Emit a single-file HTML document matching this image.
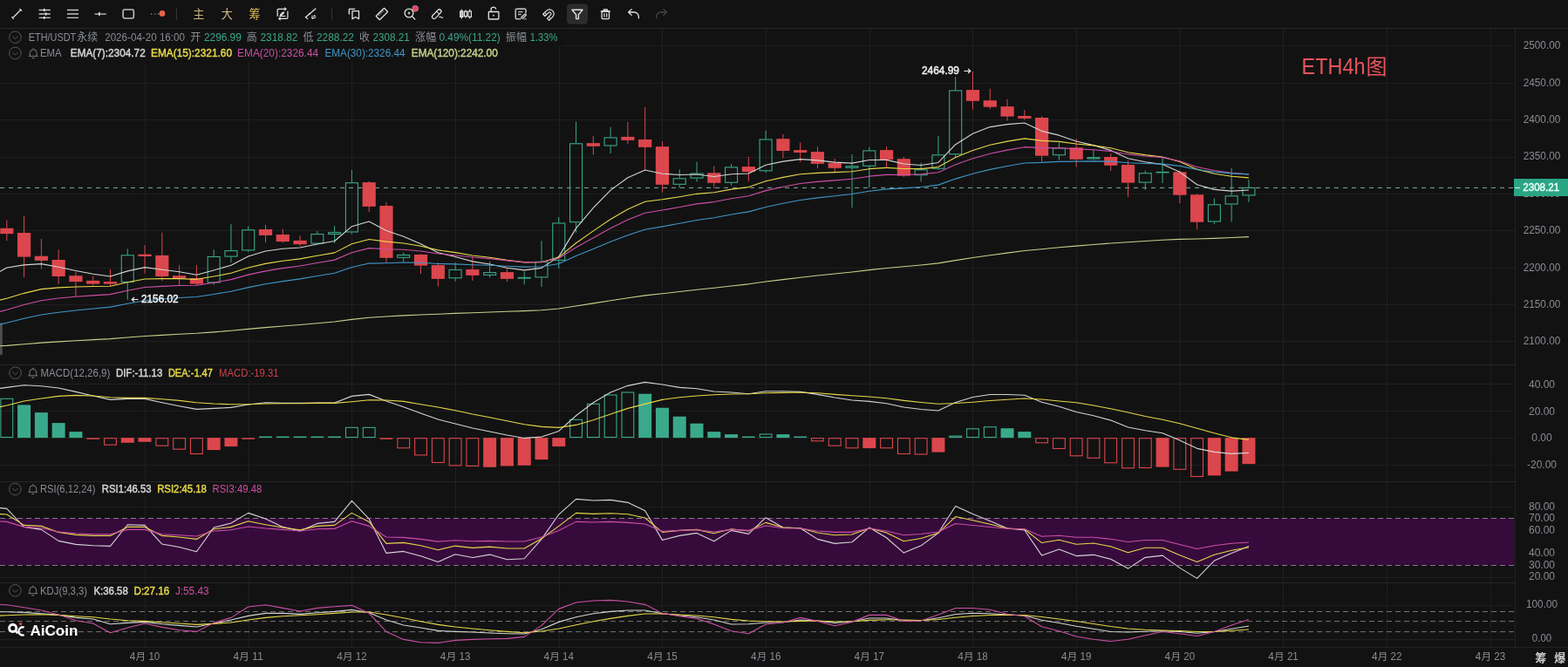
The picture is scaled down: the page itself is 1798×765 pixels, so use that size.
<!DOCTYPE html>
<html lang="zh"><head><meta charset="utf-8"><title>ETH/USDT 4h - AiCoin</title>
<style>html,body{margin:0;padding:0;background:#121212;overflow:hidden}svg{display:block;will-change:transform}text{font-family:"Liberation Sans","Noto Sans CJK SC",sans-serif;white-space:pre}</style></head>
<body>
<svg width="1798" height="765" viewBox="0 0 1798 765" role="img" aria-label="ETH/USDT 4h candlestick chart with EMA, MACD, RSI and KDJ indicators">

<rect width="1798" height="765" fill="#121212"/>
<g fill="none" shape-rendering="crispEdges" stroke-width="1">
<path d="M166.5 33V742.4" stroke="#1f1f1f"/>
<path d="M285.5 33V742.4" stroke="#1f1f1f"/>
<path d="M403.5 33V742.4" stroke="#1f1f1f"/>
<path d="M522.5 33V742.4" stroke="#1f1f1f"/>
<path d="M641.5 33V742.4" stroke="#1f1f1f"/>
<path d="M759.5 33V742.4" stroke="#1f1f1f"/>
<path d="M878.5 33V742.4" stroke="#1f1f1f"/>
<path d="M997.5 33V742.4" stroke="#1f1f1f"/>
<path d="M1115.5 33V742.4" stroke="#1f1f1f"/>
<path d="M1234.5 33V742.4" stroke="#1f1f1f"/>
<path d="M1353.5 33V742.4" stroke="#1f1f1f"/>
<path d="M1471.5 33V742.4" stroke="#1f1f1f"/>
<path d="M1590.5 33V742.4" stroke="#1f1f1f"/>
<path d="M1709.5 33V742.4" stroke="#1f1f1f"/>
<path d="M0 391.5H1737.5" stroke="#1f1f1f"/>
<path d="M0 349.5H1737.5" stroke="#1f1f1f"/>
<path d="M0 307.5H1737.5" stroke="#1f1f1f"/>
<path d="M0 264.5H1737.5" stroke="#1f1f1f"/>
<path d="M0 222.5H1737.5" stroke="#1f1f1f"/>
<path d="M0 180.5H1737.5" stroke="#1f1f1f"/>
<path d="M0 137.5H1737.5" stroke="#1f1f1f"/>
<path d="M0 95.5H1737.5" stroke="#1f1f1f"/>
<path d="M0 52.5H1737.5" stroke="#1f1f1f"/>
<path d="M0 440.5H1737.5" stroke="#1f1f1f"/>
<path d="M0 471.5H1737.5" stroke="#1f1f1f"/>
<path d="M0 502.5H1737.5" stroke="#1f1f1f"/>
<path d="M0 533.5H1737.5" stroke="#1f1f1f"/>
<path d="M0 581.5H1737.5" stroke="#1f1f1f"/>
<path d="M0 608.5H1737.5" stroke="#1f1f1f"/>
<path d="M0 635.5H1737.5" stroke="#1f1f1f"/>
<path d="M0 662.5H1737.5" stroke="#1f1f1f"/>
<path d="M0 694.5H1737.5" stroke="#1f1f1f"/>
<path d="M0 733.5H1737.5" stroke="#1f1f1f"/>
<path d="M0 32.5H1798" stroke="#272727"/>
<path d="M0 418.5H1737.5" stroke="#272727"/>
<path d="M0 552.5H1737.5" stroke="#272727"/>
<path d="M0 668.5H1737.5" stroke="#272727"/>
<path d="M0 742.5H1798" stroke="#222222"/>
<path d="M1737.5 33V742.4" stroke="#212121"/>
</g>
<path d="M0 33h645v20h-67v19.5h-578zM0 419h326v17h-326zM0 553h306v17h-306zM0 669h246v17h-246z" fill="#121212"/>
<rect x="0" y="594.4" width="1736.3" height="54" fill="#3e0a45" opacity=".82"/>
<path d="M0 594.5H1736M0 648.5H1736" stroke="#85768a" stroke-dasharray="6 4" fill="none"/>
<path d="M0 701.5H1736M0 712.6H1736M0 724.6H1736" stroke="#757575" stroke-dasharray="6 4" fill="none"/>
<path d="M0 215.4H1737.5" stroke="#9fd0c2" stroke-dasharray="5 5" fill="none" opacity=".8"/>
<rect x="0" y="370.5" width="2.8" height="36.5" fill="#4d4d4d"/>
<g id="candles" stroke-width="1">
<path d="M7.8 252.6V276.2" stroke="#dc464d"/><rect x="0.2" y="261.8" width="15.2" height="6.3" fill="#dc464d"/>
<path d="M27.58 247.4V317.9" stroke="#dc464d"/><rect x="19.98" y="267" width="15.2" height="27.6" fill="#dc464d"/>
<path d="M47.36 273.9V308.7" stroke="#dc464d"/><rect x="39.76" y="293.7" width="15.2" height="5.2" fill="#dc464d"/>
<path d="M67.14 286.3V325.6" stroke="#dc464d"/><rect x="59.54" y="298" width="15.2" height="19" fill="#dc464d"/>
<path d="M86.92 312.1V340" stroke="#dc464d"/><rect x="79.32" y="316.2" width="15.2" height="6.9" fill="#dc464d"/>
<path d="M106.7 316.4V327.4" stroke="#dc464d"/><rect x="99.1" y="321.9" width="15.2" height="3.7" fill="#dc464d"/>
<path d="M126.48 308.7V327.9" stroke="#dc464d"/><rect x="118.88" y="323.1" width="15.2" height="2.5" fill="#dc464d"/>
<path d="M146.26 285.4V292.3M146.26 323.9V343.9" stroke="#3aa98b"/><rect x="139.26" y="292.8" width="14" height="30.6" fill="none" stroke="#3aa98b" stroke-width="1.1"/>
<path d="M166.04 281.1V313.6" stroke="#dc464d"/><rect x="158.44" y="291.7" width="15.2" height="2.3" fill="#dc464d"/>
<path d="M185.82 266.7V322.2" stroke="#dc464d"/><rect x="178.22" y="292.9" width="15.2" height="24.1" fill="#dc464d"/>
<path d="M205.6 304.1V327.4" stroke="#dc464d"/><rect x="198" y="316.2" width="15.2" height="3.1" fill="#dc464d"/>
<path d="M225.38 304.1V327.4" stroke="#dc464d"/><rect x="217.78" y="319" width="15.2" height="6.6" fill="#dc464d"/>
<path d="M245.16 286.3V294M245.16 324.5V326.8" stroke="#3aa98b"/><rect x="238.16" y="294.5" width="14" height="29.5" fill="none" stroke="#3aa98b" stroke-width="1.1"/>
<path d="M264.94 257.2V287.1M264.94 294.6V301.2" stroke="#3aa98b"/><rect x="257.94" y="287.6" width="14" height="6.5" fill="none" stroke="#3aa98b" stroke-width="1.1"/>
<path d="M284.72 259.5V263.3M284.72 287.4V289.1" stroke="#3aa98b"/><rect x="277.72" y="263.8" width="14" height="23.1" fill="none" stroke="#3aa98b" stroke-width="1.1"/>
<path d="M304.5 257.8V278.2" stroke="#dc464d"/><rect x="296.9" y="263" width="15.2" height="6.9" fill="#dc464d"/>
<path d="M324.28 262.4V278.2" stroke="#dc464d"/><rect x="316.68" y="269" width="15.2" height="8.1" fill="#dc464d"/>
<path d="M344.06 270.2V282.5" stroke="#dc464d"/><rect x="336.46" y="275.9" width="15.2" height="4.3" fill="#dc464d"/>
<path d="M363.84 265V268.1M363.84 279.6V280.5" stroke="#3aa98b"/><rect x="356.84" y="268.6" width="14" height="10.5" fill="none" stroke="#3aa98b" stroke-width="1.1"/>
<path d="M383.62 259.2V266.1M383.62 269V279" stroke="#3aa98b"/><rect x="376.62" y="266.6" width="14" height="1.9" fill="none" stroke="#3aa98b" stroke-width="1.1"/>
<path d="M403.4 194.9V209.2M403.4 266.5V268.6" stroke="#3aa98b"/><rect x="396.4" y="209.7" width="14" height="56.3" fill="none" stroke="#3aa98b" stroke-width="1.1"/>
<path d="M423.18 208V243" stroke="#dc464d"/><rect x="415.58" y="209.1" width="15.2" height="27.8" fill="#dc464d"/>
<path d="M442.96 232V301.2" stroke="#dc464d"/><rect x="435.36" y="236" width="15.2" height="59.8" fill="#dc464d"/>
<path d="M462.74 289.4V292M462.74 295.8V299.8" stroke="#3aa98b"/><rect x="455.74" y="292.5" width="14" height="2.8" fill="none" stroke="#3aa98b" stroke-width="1.1"/>
<path d="M482.52 291.1V314.1" stroke="#dc464d"/><rect x="474.92" y="292" width="15.2" height="12.6" fill="#dc464d"/>
<path d="M502.3 301.2V328.5" stroke="#dc464d"/><rect x="494.7" y="304.1" width="15.2" height="15.8" fill="#dc464d"/>
<path d="M522.08 301.2V309M522.08 319.3V322.8" stroke="#3aa98b"/><rect x="515.08" y="309.5" width="14" height="9.3" fill="none" stroke="#3aa98b" stroke-width="1.1"/>
<path d="M541.86 294V321.9" stroke="#dc464d"/><rect x="534.26" y="309" width="15.2" height="6.9" fill="#dc464d"/>
<path d="M561.64 299.8V312.1M561.64 315.9V318.4" stroke="#3aa98b"/><rect x="554.64" y="312.6" width="14" height="2.8" fill="none" stroke="#3aa98b" stroke-width="1.1"/>
<path d="M581.42 307V323.3" stroke="#dc464d"/><rect x="573.82" y="312.1" width="15.2" height="7.8" fill="#dc464d"/>
<path d="M601.2 311.3V317.9M601.2 319.6V326.2" stroke="#3aa98b"/><rect x="594.2" y="318.4" width="14" height="0.7" fill="none" stroke="#3aa98b" stroke-width="1.1"/>
<path d="M620.98 276.2V299.8M620.98 318.4V329.1" stroke="#3aa98b"/><rect x="613.98" y="300.3" width="14" height="17.6" fill="none" stroke="#3aa98b" stroke-width="1.1"/>
<path d="M640.76 248.9V255.5M640.76 298.9V307.8" stroke="#3aa98b"/><rect x="633.76" y="256" width="14" height="42.4" fill="none" stroke="#3aa98b" stroke-width="1.1"/>
<path d="M660.54 139.6V164.3M660.54 255.2V266.7" stroke="#3aa98b"/><rect x="653.54" y="164.8" width="14" height="89.9" fill="none" stroke="#3aa98b" stroke-width="1.1"/>
<path d="M680.32 156V177.6" stroke="#dc464d"/><rect x="672.72" y="164.1" width="15.2" height="3.7" fill="#dc464d"/>
<path d="M700.1 145.7V157.4M700.1 167.5V176.1" stroke="#3aa98b"/><rect x="693.1" y="157.9" width="14" height="9.1" fill="none" stroke="#3aa98b" stroke-width="1.1"/>
<path d="M719.88 139.9V165.2" stroke="#dc464d"/><rect x="712.28" y="156.9" width="15.2" height="4" fill="#dc464d"/>
<path d="M739.66 122.9V194.8" stroke="#dc464d"/><rect x="732.06" y="160" width="15.2" height="8.9" fill="#dc464d"/>
<path d="M759.44 162V220.7" stroke="#dc464d"/><rect x="751.84" y="168.1" width="15.2" height="43.7" fill="#dc464d"/>
<path d="M779.22 194.2V204.3M779.22 211.8V215.5" stroke="#3aa98b"/><rect x="772.22" y="204.8" width="14" height="6.5" fill="none" stroke="#3aa98b" stroke-width="1.1"/>
<path d="M799 185.6V198.6M799 204.6V208.3" stroke="#3aa98b"/><rect x="792" y="199.1" width="14" height="5" fill="none" stroke="#3aa98b" stroke-width="1.1"/>
<path d="M818.78 190.5V215.8" stroke="#dc464d"/><rect x="811.18" y="198.3" width="15.2" height="11.5" fill="#dc464d"/>
<path d="M838.56 188.2V191.4M838.56 209.8V212.6" stroke="#3aa98b"/><rect x="831.56" y="191.9" width="14" height="17.4" fill="none" stroke="#3aa98b" stroke-width="1.1"/>
<path d="M858.34 179.9V208.3" stroke="#dc464d"/><rect x="850.74" y="191.1" width="15.2" height="6" fill="#dc464d"/>
<path d="M878.12 149.7V159.5M878.12 196.3V198" stroke="#3aa98b"/><rect x="871.12" y="160" width="14" height="35.8" fill="none" stroke="#3aa98b" stroke-width="1.1"/>
<path d="M897.9 154V181.6" stroke="#dc464d"/><rect x="890.3" y="159.2" width="15.2" height="13.8" fill="#dc464d"/>
<path d="M917.68 163.5V185.9" stroke="#dc464d"/><rect x="910.08" y="172.1" width="15.2" height="2.9" fill="#dc464d"/>
<path d="M937.46 168.4V193.1" stroke="#dc464d"/><rect x="929.86" y="174.1" width="15.2" height="13.8" fill="#dc464d"/>
<path d="M957.24 181.9V197.4" stroke="#dc464d"/><rect x="949.64" y="186.8" width="15.2" height="6" fill="#dc464d"/>
<path d="M977.02 177V190.2M977.02 192.8V238.3" stroke="#3aa98b"/><rect x="970.02" y="190.7" width="14" height="1.6" fill="none" stroke="#3aa98b" stroke-width="1.1"/>
<path d="M996.8 168.7V172.4M996.8 190.8V215.3" stroke="#3aa98b"/><rect x="989.8" y="172.9" width="14" height="17.4" fill="none" stroke="#3aa98b" stroke-width="1.1"/>
<path d="M1016.58 168.1V191.4" stroke="#dc464d"/><rect x="1008.98" y="172.1" width="15.2" height="11" fill="#dc464d"/>
<path d="M1036.36 179.9V202.9" stroke="#dc464d"/><rect x="1028.76" y="182.2" width="15.2" height="19.5" fill="#dc464d"/>
<path d="M1056.14 186.5V194.3M1056.14 201.2V208.4" stroke="#3aa98b"/><rect x="1049.14" y="194.8" width="14" height="5.9" fill="none" stroke="#3aa98b" stroke-width="1.1"/>
<path d="M1075.92 156V177.3M1075.92 193.7V195.1" stroke="#3aa98b"/><rect x="1068.92" y="177.8" width="14" height="15.4" fill="none" stroke="#3aa98b" stroke-width="1.1"/>
<path d="M1095.7 88.2V103.4M1095.7 177.3V180.8" stroke="#3aa98b"/><rect x="1088.7" y="103.9" width="14" height="72.9" fill="none" stroke="#3aa98b" stroke-width="1.1"/>
<path d="M1115.48 82.1V125.6" stroke="#dc464d"/><rect x="1107.88" y="103.1" width="15.2" height="12.7" fill="#dc464d"/>
<path d="M1135.26 101.7V125.3" stroke="#dc464d"/><rect x="1127.66" y="115.2" width="15.2" height="7.5" fill="#dc464d"/>
<path d="M1155.04 113.8V138.5" stroke="#dc464d"/><rect x="1147.44" y="122.1" width="15.2" height="11.5" fill="#dc464d"/>
<path d="M1174.82 126.1V137.6" stroke="#dc464d"/><rect x="1167.22" y="133" width="15.2" height="2.9" fill="#dc464d"/>
<path d="M1194.6 133.3V185.6" stroke="#dc464d"/><rect x="1187" y="135" width="15.2" height="43.7" fill="#dc464d"/>
<path d="M1214.38 163.5V169.5M1214.38 178.2V183.6" stroke="#3aa98b"/><rect x="1207.38" y="170" width="14" height="7.7" fill="none" stroke="#3aa98b" stroke-width="1.1"/>
<path d="M1234.16 159.2V191.4" stroke="#dc464d"/><rect x="1226.56" y="169.3" width="15.2" height="13.5" fill="#dc464d"/>
<path d="M1253.94 172.1V180.2M1253.94 182.5V183.6" stroke="#3aa98b"/><rect x="1246.94" y="180.7" width="14" height="1.3" fill="none" stroke="#3aa98b" stroke-width="1.1"/>
<path d="M1273.72 176.3V195.9" stroke="#dc464d"/><rect x="1266.12" y="180" width="15.2" height="9.8" fill="#dc464d"/>
<path d="M1293.5 184.1V225.7" stroke="#dc464d"/><rect x="1285.9" y="189" width="15.2" height="20.6" fill="#dc464d"/>
<path d="M1313.28 195.5V198.2M1313.28 209.6V217.8" stroke="#3aa98b"/><rect x="1306.28" y="198.7" width="14" height="10.4" fill="none" stroke="#3aa98b" stroke-width="1.1"/>
<path d="M1333.06 180.6V196.9M1333.06 198.4V210" stroke="#3aa98b"/><rect x="1326.06" y="197.4" width="14" height="0.5" fill="none" stroke="#3aa98b" stroke-width="1.1"/>
<path d="M1352.84 195.5V233.1" stroke="#dc464d"/><rect x="1345.24" y="197.3" width="15.2" height="26.4" fill="#dc464d"/>
<path d="M1372.62 222.4V263.1" stroke="#dc464d"/><rect x="1365.02" y="223.3" width="15.2" height="31.4" fill="#dc464d"/>
<path d="M1392.4 227.6V234.3M1392.4 254.5V257.1" stroke="#3aa98b"/><rect x="1385.4" y="234.8" width="14" height="19.2" fill="none" stroke="#3aa98b" stroke-width="1.1"/>
<path d="M1412.18 192.9V224.3M1412.18 234.5V254.3" stroke="#3aa98b"/><rect x="1405.18" y="224.8" width="14" height="9.2" fill="none" stroke="#3aa98b" stroke-width="1.1"/>
<path d="M1431.96 206V214.9M1431.96 224.45V231.9" stroke="#3aa98b"/><rect x="1424.96" y="215.4" width="14" height="8.55" fill="none" stroke="#3aa98b" stroke-width="1.1"/>
</g>
<path d="M-11.98 318L7.8 307L27.58 303.9L47.36 302.65L67.14 306.24L86.92 310.45L106.7 314.24L126.48 317.08L146.26 310.88L166.04 306.66L185.82 309.25L205.6 311.76L225.38 315.22L245.16 309.92L264.94 304.21L284.72 293.98L304.5 287.96L324.28 285.25L344.06 283.99L363.84 280.01L383.62 276.54L403.4 259.7L423.18 254L442.96 264.45L462.74 271.34L482.52 279.65L502.3 289.72L522.08 294.54L541.86 299.88L561.64 302.93L581.42 307.17L601.2 309.86L620.98 307.34L640.76 294.38L660.54 261.86L680.32 238.35L700.1 218.11L719.88 203.81L739.66 195.08L759.44 199.26L779.22 200.52L799 200.04L818.78 202.48L838.56 199.71L858.34 199.06L878.12 189.17L897.9 185.13L917.68 182.59L937.46 183.92L957.24 186.14L977.02 187.16L996.8 183.47L1016.58 183.37L1036.36 187.96L1056.14 189.54L1075.92 186.48L1095.7 165.71L1115.48 153.23L1135.26 145.6L1155.04 142.6L1174.82 140.93L1194.6 150.37L1214.38 155.15L1234.16 162.06L1253.94 166.6L1273.72 172.4L1293.5 181.7L1313.28 185.82L1333.06 188.59L1352.84 197.37L1372.62 211.7L1392.4 217.35L1412.18 219.09L1431.96 218.04" stroke="#d4d4d4" stroke-width="1.1" fill="none" stroke-linejoin="round"/>
<path d="M-11.98 347L7.8 342.3L27.58 336.34L47.36 331.66L67.14 329.83L86.92 328.98L106.7 328.56L126.48 328.19L146.26 323.71L166.04 319.99L185.82 319.62L205.6 319.58L225.38 320.33L245.16 317.04L264.94 313.3L284.72 307.05L304.5 302.4L324.28 299.24L344.06 296.86L363.84 293.27L383.62 289.87L403.4 279.79L423.18 274.43L442.96 277.1L462.74 278.96L482.52 282.17L502.3 286.88L522.08 289.65L541.86 292.93L561.64 295.32L581.42 298.4L601.2 300.83L620.98 300.71L640.76 295.05L660.54 278.71L680.32 264.85L700.1 251.42L719.88 240.1L739.66 231.2L759.44 228.78L779.22 225.72L799 222.33L818.78 220.76L838.56 217.09L858.34 214.59L878.12 207.71L897.9 203.37L917.68 199.82L937.46 198.33L957.24 197.64L977.02 196.71L996.8 193.67L1016.58 192.35L1036.36 193.52L1056.14 193.62L1075.92 191.58L1095.7 180.55L1115.48 172.46L1135.26 166.24L1155.04 162.16L1174.82 158.88L1194.6 161.36L1214.38 162.37L1234.16 164.93L1253.94 166.84L1273.72 169.71L1293.5 174.69L1313.28 177.63L1333.06 180.04L1352.84 185.5L1372.62 194.15L1392.4 199.17L1412.18 202.31L1431.96 203.88" stroke="#e6d74a" stroke-width="1.1" fill="none" stroke-linejoin="round"/>
<path d="M-11.98 360.5L7.8 355.3L27.58 349.52L47.36 344.7L67.14 342.06L86.92 340.25L106.7 338.86L126.48 337.6L146.26 333.28L166.04 329.54L185.82 328.35L205.6 327.49L225.38 327.31L245.16 324.13L264.94 320.61L284.72 315.15L304.5 310.84L324.28 307.63L344.06 305.01L363.84 301.5L383.62 298.13L403.4 289.66L423.18 284.63L442.96 285.7L462.74 286.3L482.52 288.04L502.3 291.07L522.08 292.78L541.86 294.98L561.64 296.61L581.42 298.83L601.2 300.65L620.98 300.57L640.76 296.27L660.54 283.71L680.32 272.67L700.1 261.69L719.88 252.09L739.66 244.17L759.44 241.08L779.22 237.58L799 233.87L818.78 231.58L838.56 227.75L858.34 224.83L878.12 218.61L897.9 214.27L917.68 210.53L937.46 208.37L957.24 206.89L977.02 205.3L996.8 202.17L1016.58 200.35L1036.36 200.48L1056.14 199.89L1075.92 197.74L1095.7 188.75L1115.48 181.81L1135.26 176.18L1155.04 172.12L1174.82 168.67L1194.6 169.63L1214.38 169.62L1234.16 170.87L1253.94 171.76L1273.72 173.48L1293.5 176.92L1313.28 178.94L1333.06 180.65L1352.84 184.75L1372.62 191.42L1392.4 195.5L1412.18 198.24L1431.96 199.83" stroke="#cc4fa6" stroke-width="1.1" fill="none" stroke-linejoin="round"/>
<path d="M-11.98 375L7.8 370.2L27.58 365.32L47.36 361.04L67.14 358.2L86.92 355.93L106.7 353.97L126.48 352.14L146.26 348.28L166.04 344.78L185.82 342.99L205.6 341.46L225.38 340.44L245.16 337.44L264.94 334.19L284.72 329.62L304.5 325.77L324.28 322.63L344.06 319.89L363.84 316.55L383.62 313.29L403.4 306.58L423.18 302.08L442.96 301.68L462.74 301.05L482.52 301.28L502.3 302.48L522.08 302.9L541.86 303.74L561.64 304.28L581.42 305.29L601.2 306.1L620.98 305.7L640.76 302.46L660.54 293.54L680.32 285.43L700.1 277.17L719.88 269.67L739.66 263.17L759.44 259.85L779.22 256.27L799 252.55L818.78 249.79L838.56 246.02L858.34 242.87L878.12 237.49L897.9 233.33L917.68 229.57L937.46 226.88L957.24 224.68L977.02 222.45L996.8 219.23L1016.58 216.89L1036.36 215.91L1056.14 214.52L1075.92 212.12L1095.7 205.1L1115.48 199.34L1135.26 194.4L1155.04 190.48L1174.82 186.95L1194.6 186.42L1214.38 185.33L1234.16 185.17L1253.94 184.85L1273.72 185.17L1293.5 186.74L1313.28 187.48L1333.06 188.09L1352.84 190.39L1372.62 194.54L1392.4 197.1L1412.18 198.86L1431.96 199.89" stroke="#3f96c8" stroke-width="1.1" fill="none" stroke-linejoin="round"/>
<path d="M-11.98 397.2L7.8 396.4L27.58 394.72L47.36 393.13L67.14 391.88L86.92 390.74L106.7 389.66L126.48 388.6L146.26 387.01L166.04 385.47L185.82 384.34L205.6 383.27L225.38 382.31L245.16 380.85L264.94 379.3L284.72 377.39L304.5 375.61L324.28 373.98L344.06 372.43L363.84 370.71L383.62 368.98L403.4 366.34L423.18 364.2L442.96 363.07L462.74 361.89L482.52 360.95L502.3 360.27L522.08 359.42L541.86 358.7L561.64 357.93L581.42 357.3L601.2 356.65L620.98 355.71L640.76 354.05L660.54 350.92L680.32 347.89L700.1 344.74L719.88 341.7L739.66 338.85L759.44 336.75L779.22 334.56L799 332.31L818.78 330.29L838.56 327.99L858.34 325.83L878.12 323.08L897.9 320.6L917.68 318.19L937.46 316.04L957.24 314L977.02 311.95L996.8 309.65L1016.58 307.56L1036.36 305.81L1056.14 303.96L1075.92 301.87L1095.7 298.59L1115.48 295.57L1135.26 292.71L1155.04 290.08L1174.82 287.53L1194.6 285.73L1214.38 283.81L1234.16 282.14L1253.94 280.46L1273.72 278.96L1293.5 277.81L1313.28 276.5L1333.06 275.18L1352.84 274.33L1372.62 274.01L1392.4 273.35L1412.18 272.54L1431.96 271.59" stroke="#c5d08a" stroke-width="1.1" fill="none" stroke-linejoin="round"/>
<g id="macd">
<rect x="0.9" y="457.3" width="13.8" height="44.2" fill="none" stroke="#3aa98b" stroke-width="1.1"/>
<rect x="20.08" y="464.4" width="15" height="37.7" fill="#3aa98b"/>
<rect x="39.86" y="473.1" width="15" height="29" fill="#3aa98b"/>
<rect x="59.64" y="485.1" width="15" height="17" fill="#3aa98b"/>
<rect x="79.42" y="495.1" width="15" height="7" fill="#3aa98b"/>
<rect x="99.3" y="502.3" width="14.8" height="1.5" fill="#dc464d"/>
<rect x="119.58" y="502.7" width="13.8" height="7.5" fill="none" stroke="#dc464d" stroke-width="1.1"/>
<rect x="138.76" y="502.1" width="15" height="5.7" fill="#dc464d"/>
<rect x="158.54" y="502.1" width="15" height="4.7" fill="#dc464d"/>
<rect x="178.92" y="502.7" width="13.8" height="8.5" fill="none" stroke="#dc464d" stroke-width="1.1"/>
<rect x="198.7" y="502.7" width="13.8" height="12.5" fill="none" stroke="#dc464d" stroke-width="1.1"/>
<rect x="218.48" y="502.7" width="13.8" height="17.8" fill="none" stroke="#dc464d" stroke-width="1.1"/>
<rect x="237.66" y="502.1" width="15" height="14" fill="#dc464d"/>
<rect x="257.44" y="502.1" width="15" height="10" fill="#dc464d"/>
<rect x="277.32" y="502.3" width="14.8" height="1.5" fill="#dc464d"/>
<rect x="297.1" y="500.5" width="14.8" height="1.5" fill="#3aa98b"/>
<rect x="316.88" y="500.5" width="14.8" height="1.5" fill="#3aa98b"/>
<rect x="336.66" y="500.5" width="14.8" height="1.5" fill="#3aa98b"/>
<rect x="356.44" y="500.5" width="14.8" height="1.5" fill="#3aa98b"/>
<rect x="376.22" y="500.5" width="14.8" height="1.5" fill="#3aa98b"/>
<rect x="396.5" y="490.4" width="13.8" height="11.1" fill="none" stroke="#3aa98b" stroke-width="1.1"/>
<rect x="416.28" y="490.4" width="13.8" height="11.1" fill="none" stroke="#3aa98b" stroke-width="1.1"/>
<rect x="435.56" y="502.3" width="14.8" height="1.5" fill="#dc464d"/>
<rect x="455.84" y="502.7" width="13.8" height="11.1" fill="none" stroke="#dc464d" stroke-width="1.1"/>
<rect x="475.62" y="502.7" width="13.8" height="19.2" fill="none" stroke="#dc464d" stroke-width="1.1"/>
<rect x="495.4" y="502.7" width="13.8" height="27.8" fill="none" stroke="#dc464d" stroke-width="1.1"/>
<rect x="515.18" y="502.7" width="13.8" height="31.2" fill="none" stroke="#dc464d" stroke-width="1.1"/>
<rect x="534.96" y="502.7" width="13.8" height="31.8" fill="none" stroke="#dc464d" stroke-width="1.1"/>
<rect x="554.14" y="502.1" width="15" height="33.7" fill="#dc464d"/>
<rect x="573.92" y="502.1" width="15" height="32.4" fill="#dc464d"/>
<rect x="593.7" y="502.1" width="15" height="31.7" fill="#dc464d"/>
<rect x="613.48" y="502.1" width="15" height="25" fill="#dc464d"/>
<rect x="633.26" y="502.1" width="15" height="10" fill="#dc464d"/>
<rect x="653.64" y="481.3" width="13.8" height="20.2" fill="none" stroke="#3aa98b" stroke-width="1.1"/>
<rect x="673.42" y="463.3" width="13.8" height="38.2" fill="none" stroke="#3aa98b" stroke-width="1.1"/>
<rect x="693.2" y="453" width="13.8" height="48.5" fill="none" stroke="#3aa98b" stroke-width="1.1"/>
<rect x="712.98" y="450" width="13.8" height="51.5" fill="none" stroke="#3aa98b" stroke-width="1.1"/>
<rect x="732.16" y="451.7" width="15" height="50.4" fill="#3aa98b"/>
<rect x="751.94" y="467.7" width="15" height="34.4" fill="#3aa98b"/>
<rect x="771.72" y="477.7" width="15" height="24.4" fill="#3aa98b"/>
<rect x="791.5" y="485.7" width="15" height="16.4" fill="#3aa98b"/>
<rect x="811.28" y="495.1" width="15" height="7" fill="#3aa98b"/>
<rect x="831.06" y="498.1" width="15" height="4" fill="#3aa98b"/>
<rect x="850.94" y="500.5" width="14.8" height="1.5" fill="#3aa98b"/>
<rect x="871.22" y="498" width="13.8" height="3.5" fill="none" stroke="#3aa98b" stroke-width="1.1"/>
<rect x="890.4" y="498.1" width="15" height="4" fill="#3aa98b"/>
<rect x="910.28" y="500.5" width="14.8" height="1.5" fill="#3aa98b"/>
<rect x="930.56" y="502.7" width="13.8" height="3.1" fill="none" stroke="#dc464d" stroke-width="1.1"/>
<rect x="950.34" y="502.7" width="13.8" height="8.5" fill="none" stroke="#dc464d" stroke-width="1.1"/>
<rect x="970.12" y="502.7" width="13.8" height="11.1" fill="none" stroke="#dc464d" stroke-width="1.1"/>
<rect x="989.3" y="502.1" width="15" height="12" fill="#dc464d"/>
<rect x="1009.68" y="502.7" width="13.8" height="11.1" fill="none" stroke="#dc464d" stroke-width="1.1"/>
<rect x="1029.46" y="502.7" width="13.8" height="17.8" fill="none" stroke="#dc464d" stroke-width="1.1"/>
<rect x="1049.24" y="502.7" width="13.8" height="18.3" fill="none" stroke="#dc464d" stroke-width="1.1"/>
<rect x="1068.42" y="502.1" width="15" height="16.5" fill="#dc464d"/>
<rect x="1088.8" y="500.1" width="13.8" height="1.4" fill="none" stroke="#3aa98b" stroke-width="1.1"/>
<rect x="1108.58" y="491.8" width="13.8" height="9.7" fill="none" stroke="#3aa98b" stroke-width="1.1"/>
<rect x="1128.36" y="489.7" width="13.8" height="11.8" fill="none" stroke="#3aa98b" stroke-width="1.1"/>
<rect x="1147.54" y="491.2" width="15" height="10.9" fill="#3aa98b"/>
<rect x="1167.32" y="495.1" width="15" height="7" fill="#3aa98b"/>
<rect x="1187.7" y="502.7" width="13.8" height="5.1" fill="none" stroke="#dc464d" stroke-width="1.1"/>
<rect x="1207.48" y="502.7" width="13.8" height="11.8" fill="none" stroke="#dc464d" stroke-width="1.1"/>
<rect x="1227.26" y="502.7" width="13.8" height="20.1" fill="none" stroke="#dc464d" stroke-width="1.1"/>
<rect x="1247.04" y="502.7" width="13.8" height="22.6" fill="none" stroke="#dc464d" stroke-width="1.1"/>
<rect x="1266.82" y="502.7" width="13.8" height="28.1" fill="none" stroke="#dc464d" stroke-width="1.1"/>
<rect x="1286.6" y="502.7" width="13.8" height="34.1" fill="none" stroke="#dc464d" stroke-width="1.1"/>
<rect x="1306.38" y="502.7" width="13.8" height="33.8" fill="none" stroke="#dc464d" stroke-width="1.1"/>
<rect x="1325.56" y="502.1" width="15" height="33.5" fill="#dc464d"/>
<rect x="1345.94" y="502.7" width="13.8" height="35.6" fill="none" stroke="#dc464d" stroke-width="1.1"/>
<rect x="1365.72" y="502.7" width="13.8" height="43.8" fill="none" stroke="#dc464d" stroke-width="1.1"/>
<rect x="1384.9" y="502.1" width="15" height="43.3" fill="#dc464d"/>
<rect x="1404.68" y="502.1" width="15" height="38.5" fill="#dc464d"/>
<rect x="1424.46" y="502.1" width="15" height="30" fill="#dc464d"/>
</g>
<path d="M-11.98 446.86L7.8 444.36L27.58 441.69L47.36 442.69L67.14 445.03L86.92 449.37L106.7 454.04L126.48 458.38L146.26 457.38L166.04 457.38L185.82 461.71L205.6 465.72L225.38 469.39L245.16 468.39L264.94 467.39L284.72 464.05L304.5 461.71L324.28 462.38L344.06 462.38L363.84 462.05L383.62 462.05L403.4 454.37L423.18 452.37L442.96 460.05L462.74 466.72L482.52 474.06L502.3 481.07L522.08 486.07L541.86 491.08L561.64 495.08L581.42 499.08L601.2 502.42L620.98 501.09L640.76 494.41L660.54 476.73L680.32 461.71L700.1 450.04L719.88 442.36L739.66 438.36L759.44 441.03L779.22 444.36L799 445.7L818.78 449.03L838.56 450.04L858.34 451.7L878.12 448.7L897.9 448.7L917.68 449.37L937.46 452.37L957.24 456.04L977.02 459.04L996.8 460.38L1016.58 462.71L1036.36 467.05L1056.14 469.55L1075.92 471.06L1095.7 461.55L1115.48 455.54L1135.26 452.54L1155.04 452.54L1174.82 453.29L1194.6 461.3L1214.38 466.3L1234.16 472.56L1253.94 476.81L1273.72 482.07L1293.5 490.08L1313.28 493.83L1333.06 496.83L1352.84 505.09L1372.62 514.35L1392.4 518.35L1412.18 520.36L1431.96 519.35" stroke="#d4d4d4" stroke-width="1.1" fill="none" stroke-linejoin="round"/>
<path d="M-11.98 469.05L7.8 465.05L27.58 460.05L47.36 457.04L67.14 454.37L86.92 453.37L106.7 454.04L126.48 455.71L146.26 456.37L166.04 456.37L185.82 457.71L205.6 459.38L225.38 461.71L245.16 463.05L264.94 463.72L284.72 463.72L304.5 463.05L324.28 462.71L344.06 462.71L363.84 462.38L383.62 462.38L403.4 460.71L423.18 458.71L442.96 459.04L462.74 460.38L482.52 463.72L502.3 467.05L522.08 470.72L541.86 475.06L561.64 478.73L581.42 482.73L601.2 486.74L620.98 489.41L640.76 490.41L660.54 487.41L680.32 481.73L700.1 475.06L719.88 468.39L739.66 463.38L759.44 458.38L779.22 455.71L799 454.04L818.78 452.7L838.56 452.04L858.34 451.7L878.12 450.7L897.9 450.37L917.68 450.04L937.46 450.7L957.24 452.37L977.02 453.71L996.8 455.04L1016.58 456.71L1036.36 459.38L1056.14 461.55L1075.92 463.3L1095.7 462.55L1115.48 461.3L1135.26 459.54L1155.04 458.29L1174.82 457.04L1194.6 458.04L1214.38 460.05L1234.16 461.8L1253.94 465.05L1273.72 468.8L1293.5 473.06L1313.28 477.56L1333.06 481.32L1352.84 485.82L1372.62 491.33L1392.4 496.83L1412.18 501.84L1431.96 504.34" stroke="#e6d74a" stroke-width="1.1" fill="none" stroke-linejoin="round"/>
<path d="M-11.98 581.37L7.8 583.37L27.58 604.39L47.36 607.4L67.14 620.41L86.92 624.41L106.7 625.75L126.48 626.41L146.26 601.72L166.04 602.39L185.82 624.08L205.6 627.42L225.38 632.75L245.16 605.06L264.94 600.06L284.72 588.38L304.5 595.05L324.28 604.39L344.06 609.06L363.84 600.39L383.62 598.39L403.4 574.36L423.18 595.05L442.96 634.42L462.74 632.42L482.52 637.76L502.3 644.43L522.08 635.76L541.86 639.43L561.64 636.09L581.42 641.75L601.2 640.75L620.98 618.4L640.76 590.04L660.54 572.35L680.32 574.02L700.1 573.35L719.88 576.35L739.66 585.7L759.44 619.4L779.22 614.39L799 611.39L818.78 620.73L838.56 608.39L858.34 612.39L878.12 593.71L897.9 605.05L917.68 605.72L937.46 618.4L957.24 623.4L977.02 621.73L996.8 605.05L1016.58 616.73L1036.36 634.08L1056.14 625.82L1075.92 611.31L1095.7 580.53L1115.48 589.53L1135.26 597.54L1155.04 606.05L1174.82 608.05L1194.6 637.08L1214.38 630.08L1234.16 637.58L1253.94 636.33L1273.72 641.34L1293.5 652.1L1313.28 639.33L1333.06 637.08L1352.84 651.35L1372.62 663.36L1392.4 643.09L1412.18 634.58L1431.96 626.57" stroke="#d4d4d4" stroke-width="1.1" fill="none" stroke-linejoin="round"/>
<path d="M-11.98 589.05L7.8 590.05L27.58 602.39L47.36 603.39L67.14 610.4L86.92 613.4L106.7 614.4L126.48 614.4L146.26 604.39L166.04 604.39L185.82 614.4L205.6 616.07L225.38 618.41L245.16 606.73L264.94 604.39L284.72 597.72L304.5 601.72L324.28 605.06L344.06 607.73L363.84 603.39L383.62 602.39L403.4 588.38L423.18 598.39L442.96 623.41L462.74 622.41L482.52 625.75L502.3 630.75L522.08 626.08L541.86 628.42L561.64 627.08L581.42 629.07L601.2 629.07L620.98 617.73L640.76 603.38L660.54 588.37L680.32 589.37L700.1 588.7L719.88 589.7L739.66 594.04L759.44 610.39L779.22 608.39L799 607.39L818.78 611.72L838.56 606.72L858.34 609.05L878.12 599.38L897.9 605.05L917.68 605.72L937.46 611.06L957.24 613.73L977.02 613.06L996.8 605.72L1016.58 611.06L1036.36 620.73L1056.14 617.56L1075.92 611.31L1095.7 592.54L1115.48 596.79L1135.26 601.3L1155.04 606.05L1174.82 607.05L1194.6 622.57L1214.38 619.31L1234.16 624.32L1253.94 623.07L1273.72 626.82L1293.5 633.83L1313.28 628.32L1333.06 628.32L1352.84 636.83L1372.62 644.59L1392.4 636.33L1412.18 631.33L1431.96 627.82" stroke="#e6d74a" stroke-width="1.1" fill="none" stroke-linejoin="round"/>
<path d="M-11.98 597.39L7.8 598.39L27.58 604.39L47.36 605.73L67.14 610.07L86.92 611.73L106.7 612.73L126.48 612.73L146.26 607.4L166.04 607.4L185.82 612.73L205.6 613.74L225.38 615.07L245.16 609.06L264.94 607.73L284.72 604.06L304.5 606.06L324.28 607.4L344.06 609.06L363.84 606.73L383.62 606.39L403.4 597.72L423.18 603.39L442.96 616.07L462.74 616.4L482.52 618.41L502.3 621.08L522.08 619.74L541.86 620.74L561.64 620.41L581.42 621.07L601.2 621.07L620.98 616.06L640.76 608.39L660.54 598.38L680.32 599.04L700.1 598.38L719.88 599.38L739.66 601.05L759.44 609.39L779.22 608.39L799 607.72L818.78 610.06L838.56 607.39L858.34 608.39L878.12 603.05L897.9 605.72L917.68 606.05L937.46 609.05L957.24 610.39L977.02 610.39L996.8 606.05L1016.58 609.05L1036.36 613.73L1056.14 612.56L1075.92 610.06L1095.7 600.55L1115.48 602.55L1135.26 604.55L1155.04 606.3L1174.82 606.8L1194.6 615.31L1214.38 614.31L1234.16 616.31L1253.94 616.31L1273.72 618.31L1293.5 621.57L1313.28 619.56L1333.06 619.56L1352.84 624.57L1372.62 629.57L1392.4 625.82L1412.18 623.32L1431.96 622.07" stroke="#cc4fa6" stroke-width="1.1" fill="none" stroke-linejoin="round"/>
<path d="M-11.98 701.7L7.8 701.7L27.58 702.37L47.36 703.71L67.14 705.37L86.92 708.38L106.7 710.05L126.48 715.72L146.26 714.38L166.04 713.38L185.82 715.72L205.6 717.39L225.38 719.05L245.16 715.05L264.94 711.05L284.72 706.37L304.5 703.37L324.28 703.37L344.06 704.37L363.84 702.7L383.62 701.37L403.4 699.37L423.18 702.7L442.96 711.05L462.74 717.05L482.52 720.06L502.3 723.39L522.08 724.39L541.86 725.06L561.64 726.06L581.42 726.73L601.2 727.06L620.98 721.72L640.76 713.38L660.54 707.71L680.32 703.71L700.1 701.37L719.88 700.04L739.66 700.04L759.44 703.71L779.22 706.04L799 707.71L818.78 711.05L838.56 716.05L858.34 715.72L878.12 714.05L897.9 713.72L917.68 711.05L937.46 712.05L957.24 714.38L977.02 712.71L996.8 709.04L1016.58 709.04L1036.36 711.71L1056.14 711.8L1075.92 708.79L1095.7 704.54L1115.48 703.29L1135.26 703.79L1155.04 705.04L1174.82 706.04L1194.6 711.3L1214.38 714.55L1234.16 718.3L1253.94 721.31L1273.72 724.56L1293.5 725.06L1313.28 724.31L1333.06 723.81L1352.84 724.56L1372.62 726.31L1392.4 724.56L1412.18 721.31L1431.96 718.05" stroke="#d4d4d4" stroke-width="1.1" fill="none" stroke-linejoin="round"/>
<path d="M-11.98 706.71L7.8 705.71L27.58 705.04L47.36 704.71L67.14 705.37L86.92 706.71L106.7 707.71L126.48 710.05L146.26 711.71L166.04 712.38L185.82 713.72L205.6 715.05L225.38 716.38L245.16 715.38L264.94 714.05L284.72 711.05L304.5 708.38L324.28 706.71L344.06 705.71L363.84 704.71L383.62 703.37L403.4 702.04L423.18 702.04L442.96 705.04L462.74 708.71L482.52 712.71L502.3 716.38L522.08 719.05L541.86 721.06L561.64 722.72L581.42 724.39L601.2 725.73L620.98 724.06L640.76 721.06L660.54 716.72L680.32 712.71L700.1 709.38L719.88 706.37L739.66 704.04L759.44 704.04L779.22 705.04L799 706.04L818.78 707.71L838.56 710.38L858.34 712.05L878.12 712.71L897.9 713.05L917.68 712.38L937.46 712.05L957.24 713.05L977.02 712.71L996.8 711.38L1016.58 710.71L1036.36 711.05L1056.14 711.55L1075.92 710.55L1095.7 708.29L1115.48 706.54L1135.26 705.54L1155.04 705.29L1174.82 705.54L1194.6 707.54L1214.38 710.05L1234.16 712.55L1253.94 715.55L1273.72 718.55L1293.5 721.06L1313.28 722.31L1333.06 723.06L1352.84 723.56L1372.62 724.56L1392.4 724.56L1412.18 723.31L1431.96 722.06" stroke="#e6d74a" stroke-width="1.1" fill="none" stroke-linejoin="round"/>
<path d="M-11.98 692.7L7.8 693.7L27.58 696.7L47.36 700.04L67.14 705.04L86.92 711.71L106.7 715.05L126.48 725.73L146.26 720.06L166.04 715.05L185.82 719.39L205.6 722.72L225.38 724.39L245.16 714.38L264.94 708.38L284.72 696.03L304.5 693.7L324.28 697.37L344.06 701.04L363.84 697.37L383.62 695.7L403.4 694.36L423.18 703.37L442.96 724.39L462.74 733.4L482.52 736.74L502.3 737.41L522.08 734.4L541.86 733.4L561.64 732.73L581.42 732.4L601.2 730.4L620.98 717.39L640.76 698.37L660.54 691.03L680.32 689.02L700.1 688.36L719.88 690.03L739.66 693.36L759.44 703.37L779.22 706.71L799 709.38L818.78 716.05L838.56 723.73L858.34 726.73L878.12 716.05L897.9 714.05L917.68 708.38L937.46 712.38L957.24 717.72L977.02 713.38L996.8 705.37L1016.58 705.37L1036.36 712.38L1056.14 712.05L1075.92 705.04L1095.7 697.53L1115.48 697.53L1135.26 699.28L1155.04 704.29L1174.82 706.79L1194.6 718.8L1214.38 723.81L1234.16 730.07L1253.94 733.32L1273.72 735.57L1293.5 733.32L1313.28 728.81L1333.06 724.56L1352.84 726.81L1372.62 729.56L1392.4 724.56L1412.18 717.05L1431.96 710.55" stroke="#cc4fa6" stroke-width="1.1" fill="none" stroke-linejoin="round"/>
<text x="1768" y="56.32" font-size="12" fill="#898c94" text-anchor="middle" textLength="42.6" lengthAdjust="spacingAndGlyphs">2500.00</text>
<text x="1768" y="98.69" font-size="12" fill="#898c94" text-anchor="middle" textLength="42.6" lengthAdjust="spacingAndGlyphs">2450.00</text>
<text x="1768" y="141.07" font-size="12" fill="#898c94" text-anchor="middle" textLength="42.6" lengthAdjust="spacingAndGlyphs">2400.00</text>
<text x="1768" y="183.44" font-size="12" fill="#898c94" text-anchor="middle" textLength="42.6" lengthAdjust="spacingAndGlyphs">2350.00</text>
<text x="1768" y="268.19" font-size="12" fill="#898c94" text-anchor="middle" textLength="42.6" lengthAdjust="spacingAndGlyphs">2250.00</text>
<text x="1768" y="310.57" font-size="12" fill="#898c94" text-anchor="middle" textLength="42.6" lengthAdjust="spacingAndGlyphs">2200.00</text>
<text x="1768" y="352.94" font-size="12" fill="#898c94" text-anchor="middle" textLength="42.6" lengthAdjust="spacingAndGlyphs">2150.00</text>
<text x="1768" y="395.32" font-size="12" fill="#898c94" text-anchor="middle" textLength="42.6" lengthAdjust="spacingAndGlyphs">2100.00</text>
<text x="1768" y="225.82" font-size="12" fill="#898c94" text-anchor="middle" textLength="42.6" lengthAdjust="spacingAndGlyphs">2300.00</text>
<rect x="1736" y="205" width="62" height="20" fill="#2aa584"/>
<path d="M1737 215.4h6" stroke="#fff" opacity=".9"/>
<text x="1767.2" y="219.22" font-size="12" fill="#eafff8" stroke="#eafff8" stroke-width=".45" text-anchor="middle" textLength="41.8" lengthAdjust="spacingAndGlyphs">2308.21</text>
<text x="1768" y="444.92" font-size="12" fill="#898c94" text-anchor="middle">40.00</text>
<text x="1768" y="475.92" font-size="12" fill="#898c94" text-anchor="middle">20.00</text>
<text x="1768" y="506.12" font-size="12" fill="#898c94" text-anchor="middle">0.00</text>
<text x="1768" y="537.12" font-size="12" fill="#898c94" text-anchor="middle">-20.00</text>
<text x="1768" y="584.82" font-size="12" fill="#898c94" text-anchor="middle">80.00</text>
<text x="1768" y="598.22" font-size="12" fill="#898c94" text-anchor="middle">70.00</text>
<text x="1768" y="611.82" font-size="12" fill="#898c94" text-anchor="middle">60.00</text>
<text x="1768" y="638.02" font-size="12" fill="#898c94" text-anchor="middle">40.00</text>
<text x="1768" y="651.72" font-size="12" fill="#898c94" text-anchor="middle">30.00</text>
<text x="1768" y="664.92" font-size="12" fill="#898c94" text-anchor="middle">20.00</text>
<text x="1768" y="697.12" font-size="12" fill="#898c94" text-anchor="middle" textLength="36.2" lengthAdjust="spacingAndGlyphs">100.00</text>
<text x="1768" y="735.72" font-size="12" fill="#898c94" text-anchor="middle" textLength="22.3" lengthAdjust="spacingAndGlyphs">0.00</text>
<text x="148.8" y="757.12" font-size="12" fill="#898c94" textLength="6.6" lengthAdjust="spacingAndGlyphs">4</text>
<text x="155.6" y="757.01" font-size="11.6" fill="#898c94">月</text>
<text x="170.4" y="757.12" font-size="12" fill="#898c94" textLength="12.9" lengthAdjust="spacingAndGlyphs">10</text>
<text x="267.48" y="757.12" font-size="12" fill="#898c94" textLength="6.6" lengthAdjust="spacingAndGlyphs">4</text>
<text x="274.28" y="757.01" font-size="11.6" fill="#898c94">月</text>
<text x="289.08" y="757.12" font-size="12" fill="#898c94" textLength="12.9" lengthAdjust="spacingAndGlyphs">11</text>
<text x="386.16" y="757.12" font-size="12" fill="#898c94" textLength="6.6" lengthAdjust="spacingAndGlyphs">4</text>
<text x="392.96" y="757.01" font-size="11.6" fill="#898c94">月</text>
<text x="407.76" y="757.12" font-size="12" fill="#898c94" textLength="12.9" lengthAdjust="spacingAndGlyphs">12</text>
<text x="504.84" y="757.12" font-size="12" fill="#898c94" textLength="6.6" lengthAdjust="spacingAndGlyphs">4</text>
<text x="511.64" y="757.01" font-size="11.6" fill="#898c94">月</text>
<text x="526.44" y="757.12" font-size="12" fill="#898c94" textLength="12.9" lengthAdjust="spacingAndGlyphs">13</text>
<text x="623.52" y="757.12" font-size="12" fill="#898c94" textLength="6.6" lengthAdjust="spacingAndGlyphs">4</text>
<text x="630.32" y="757.01" font-size="11.6" fill="#898c94">月</text>
<text x="645.12" y="757.12" font-size="12" fill="#898c94" textLength="12.9" lengthAdjust="spacingAndGlyphs">14</text>
<text x="742.2" y="757.12" font-size="12" fill="#898c94" textLength="6.6" lengthAdjust="spacingAndGlyphs">4</text>
<text x="749" y="757.01" font-size="11.6" fill="#898c94">月</text>
<text x="763.8" y="757.12" font-size="12" fill="#898c94" textLength="12.9" lengthAdjust="spacingAndGlyphs">15</text>
<text x="860.88" y="757.12" font-size="12" fill="#898c94" textLength="6.6" lengthAdjust="spacingAndGlyphs">4</text>
<text x="867.68" y="757.01" font-size="11.6" fill="#898c94">月</text>
<text x="882.48" y="757.12" font-size="12" fill="#898c94" textLength="12.9" lengthAdjust="spacingAndGlyphs">16</text>
<text x="979.56" y="757.12" font-size="12" fill="#898c94" textLength="6.6" lengthAdjust="spacingAndGlyphs">4</text>
<text x="986.36" y="757.01" font-size="11.6" fill="#898c94">月</text>
<text x="1001.16" y="757.12" font-size="12" fill="#898c94" textLength="12.9" lengthAdjust="spacingAndGlyphs">17</text>
<text x="1098.24" y="757.12" font-size="12" fill="#898c94" textLength="6.6" lengthAdjust="spacingAndGlyphs">4</text>
<text x="1105.04" y="757.01" font-size="11.6" fill="#898c94">月</text>
<text x="1119.84" y="757.12" font-size="12" fill="#898c94" textLength="12.9" lengthAdjust="spacingAndGlyphs">18</text>
<text x="1216.92" y="757.12" font-size="12" fill="#898c94" textLength="6.6" lengthAdjust="spacingAndGlyphs">4</text>
<text x="1223.72" y="757.01" font-size="11.6" fill="#898c94">月</text>
<text x="1238.52" y="757.12" font-size="12" fill="#898c94" textLength="12.9" lengthAdjust="spacingAndGlyphs">19</text>
<text x="1335.6" y="757.12" font-size="12" fill="#898c94" textLength="6.6" lengthAdjust="spacingAndGlyphs">4</text>
<text x="1342.4" y="757.01" font-size="11.6" fill="#898c94">月</text>
<text x="1357.2" y="757.12" font-size="12" fill="#898c94" textLength="12.9" lengthAdjust="spacingAndGlyphs">20</text>
<text x="1454.28" y="757.12" font-size="12" fill="#898c94" textLength="6.6" lengthAdjust="spacingAndGlyphs">4</text>
<text x="1461.08" y="757.01" font-size="11.6" fill="#898c94">月</text>
<text x="1475.88" y="757.12" font-size="12" fill="#898c94" textLength="12.9" lengthAdjust="spacingAndGlyphs">21</text>
<text x="1572.96" y="757.12" font-size="12" fill="#898c94" textLength="6.6" lengthAdjust="spacingAndGlyphs">4</text>
<text x="1579.76" y="757.01" font-size="11.6" fill="#898c94">月</text>
<text x="1594.56" y="757.12" font-size="12" fill="#898c94" textLength="12.9" lengthAdjust="spacingAndGlyphs">22</text>
<text x="1691.64" y="757.12" font-size="12" fill="#898c94" textLength="6.6" lengthAdjust="spacingAndGlyphs">4</text>
<text x="1698.44" y="757.01" font-size="11.6" fill="#898c94">月</text>
<text x="1713.24" y="757.12" font-size="12" fill="#898c94" textLength="12.9" lengthAdjust="spacingAndGlyphs">23</text>
<text x="1760.3" y="759.34" font-size="13" font-weight="700" fill="#cfcfcf">筹</text>
<text x="1782.3" y="759.34" font-size="13" font-weight="700" fill="#cfcfcf">爆</text>
<text x="1492.6" y="84.9" font-size="25" fill="#e8545c" textLength="73" lengthAdjust="spacingAndGlyphs">ETH4h</text>
<text x="1566.6" y="84.62" font-size="24" fill="#e8545c">图</text>
<text x="1057" y="85.32" font-size="12" fill="#f2f2f2" stroke="#f2f2f2" stroke-width=".45" textLength="43" lengthAdjust="spacingAndGlyphs">2464.99</text>
<path d="M1105.5 81.5h7M1110 79l2.8 2.5-2.8 2.5" stroke="#f2f2f2" stroke-width="1.1" fill="none"/>
<text x="161.9" y="347.22" font-size="12" fill="#f2f2f2" stroke="#f2f2f2" stroke-width=".45" textLength="42.8" lengthAdjust="spacingAndGlyphs">2156.02</text>
<path d="M158.5 343.5h-7M154 341l-2.8 2.5 2.8 2.5" stroke="#f2f2f2" stroke-width="1.1" fill="none"/>
<g stroke="#55575b" fill="none" stroke-width="1"><circle cx="17.4" cy="42.7" r="6.8"/><path d="M14.2 41.5l3.2 3.2 3.2-3.2"/></g>
<text x="32.7" y="47.02" font-size="12" fill="#898c94" textLength="54.6" lengthAdjust="spacingAndGlyphs">ETH/USDT</text>
<text x="88.3" y="47.06" font-size="12" fill="#898c94">永</text>
<text x="100.3" y="47.06" font-size="12" fill="#898c94">续</text>
<text x="120.2" y="47.02" font-size="12" fill="#898c94" textLength="91.8" lengthAdjust="spacingAndGlyphs">2026-04-20 16:00</text>
<text x="218.2" y="47.06" font-size="12" fill="#898c94">开</text>
<text x="234" y="47.02" font-size="12" fill="#3ba889" textLength="42.8" lengthAdjust="spacingAndGlyphs">2296.99</text>
<text x="282.8" y="47.06" font-size="12" fill="#898c94">高</text>
<text x="298.5" y="47.02" font-size="12" fill="#3ba889" textLength="42.9" lengthAdjust="spacingAndGlyphs">2318.82</text>
<text x="347.6" y="47.06" font-size="12" fill="#898c94">低</text>
<text x="363" y="47.02" font-size="12" fill="#3ba889" textLength="42.9" lengthAdjust="spacingAndGlyphs">2288.22</text>
<text x="412" y="47.06" font-size="12" fill="#898c94">收</text>
<text x="427.5" y="47.02" font-size="12" fill="#3ba889" textLength="42.2" lengthAdjust="spacingAndGlyphs">2308.21</text>
<text x="476" y="47.06" font-size="12" fill="#898c94">涨</text>
<text x="488.2" y="47.06" font-size="12" fill="#898c94">幅</text>
<text x="503.5" y="47.02" font-size="12" fill="#3ba889" textLength="70.2" lengthAdjust="spacingAndGlyphs">0.49%(11.22)</text>
<text x="579.8" y="47.06" font-size="12" fill="#898c94">振</text>
<text x="592" y="47.06" font-size="12" fill="#898c94">幅</text>
<text x="607.7" y="47.02" font-size="12" fill="#3ba889" textLength="31.7" lengthAdjust="spacingAndGlyphs">1.33%</text>
<g stroke="#55575b" fill="none" stroke-width="1"><circle cx="17.4" cy="61" r="6.8"/><path d="M14.2 59.8l3.2 3.2 3.2-3.2"/></g>
<g stroke="#7a7d82" fill="none" stroke-width="1" transform="translate(38.2 61)"><path d="M-5.4 3.4h10.8M-3.9 3.4v-3.7a3.9 3.9 0 0 1 7.8 0v3.7M-1.5 5.6h3M0 -5.8v1.3"/></g>
<text x="45.9" y="65.32" font-size="12" fill="#898c94" textLength="24.8" lengthAdjust="spacingAndGlyphs">EMA</text>
<text x="80.8" y="65.32" font-size="12" fill="#d4d4d4" stroke="#d4d4d4" stroke-width=".45" textLength="85.9" lengthAdjust="spacingAndGlyphs">EMA(7):2304.72</text>
<text x="173" y="65.32" font-size="12" fill="#e6d74a" stroke="#e6d74a" stroke-width=".45" textLength="93" lengthAdjust="spacingAndGlyphs">EMA(15):2321.60</text>
<text x="272.1" y="65.32" font-size="12" fill="#cc4fa6" textLength="93" lengthAdjust="spacingAndGlyphs">EMA(20):2326.44</text>
<text x="372.5" y="65.32" font-size="12" fill="#3f96c8" textLength="92" lengthAdjust="spacingAndGlyphs">EMA(30):2326.44</text>
<text x="471.8" y="65.32" font-size="12" fill="#c5d08a" stroke="#c5d08a" stroke-width=".45" textLength="98.9" lengthAdjust="spacingAndGlyphs">EMA(120):2242.00</text>
<g stroke="#55575b" fill="none" stroke-width="1"><circle cx="17.6" cy="427.7" r="6.8"/><path d="M14.4 426.5l3.2 3.2 3.2-3.2"/></g>
<g stroke="#7a7d82" fill="none" stroke-width="1" transform="translate(37.8 427.5)"><path d="M-5.4 3.4h10.8M-3.9 3.4v-3.7a3.9 3.9 0 0 1 7.8 0v3.7M-1.5 5.6h3M0 -5.8v1.3"/></g>
<text x="46.5" y="431.62" font-size="12" fill="#898c94" textLength="79.8" lengthAdjust="spacingAndGlyphs">MACD(12,26,9)</text>
<text x="132.9" y="431.62" font-size="12" fill="#d4d4d4" stroke="#d4d4d4" stroke-width=".45" textLength="53.4" lengthAdjust="spacingAndGlyphs">DIF:-11.13</text>
<text x="192.9" y="431.62" font-size="12" fill="#e6d74a" stroke="#e6d74a" stroke-width=".45" textLength="51" lengthAdjust="spacingAndGlyphs">DEA:-1.47</text>
<text x="251.1" y="431.62" font-size="12" fill="#c8444b" textLength="68.5" lengthAdjust="spacingAndGlyphs">MACD:-19.31</text>
<g stroke="#55575b" fill="none" stroke-width="1"><circle cx="17.4" cy="561" r="6.8"/><path d="M14.2 559.8l3.2 3.2 3.2-3.2"/></g>
<g stroke="#7a7d82" fill="none" stroke-width="1" transform="translate(37.8 561)"><path d="M-5.4 3.4h10.8M-3.9 3.4v-3.7a3.9 3.9 0 0 1 7.8 0v3.7M-1.5 5.6h3M0 -5.8v1.3"/></g>
<text x="46" y="565.32" font-size="12" fill="#898c94" textLength="63.4" lengthAdjust="spacingAndGlyphs">RSI(6,12,24)</text>
<text x="116.8" y="565.32" font-size="12" fill="#d4d4d4" stroke="#d4d4d4" stroke-width=".45" textLength="56.7" lengthAdjust="spacingAndGlyphs">RSI1:46.53</text>
<text x="180.2" y="565.32" font-size="12" fill="#e6d74a" stroke="#e6d74a" stroke-width=".45" textLength="56.7" lengthAdjust="spacingAndGlyphs">RSI2:45.18</text>
<text x="243.6" y="565.32" font-size="12" fill="#cc4fa6" textLength="56.7" lengthAdjust="spacingAndGlyphs">RSI3:49.48</text>
<g stroke="#55575b" fill="none" stroke-width="1"><circle cx="17.4" cy="677.3" r="6.8"/><path d="M14.2 676.1l3.2 3.2 3.2-3.2"/></g>
<g stroke="#7a7d82" fill="none" stroke-width="1" transform="translate(37.8 677.3)"><path d="M-5.4 3.4h10.8M-3.9 3.4v-3.7a3.9 3.9 0 0 1 7.8 0v3.7M-1.5 5.6h3M0 -5.8v1.3"/></g>
<text x="46" y="681.62" font-size="12" fill="#898c94" textLength="54.1" lengthAdjust="spacingAndGlyphs">KDJ(9,3,3)</text>
<text x="107.4" y="681.62" font-size="12" fill="#d4d4d4" stroke="#d4d4d4" stroke-width=".45" textLength="39.4" lengthAdjust="spacingAndGlyphs">K:36.58</text>
<text x="153.5" y="681.62" font-size="12" fill="#e6d74a" stroke="#e6d74a" stroke-width=".45" textLength="40.7" lengthAdjust="spacingAndGlyphs">D:27.16</text>
<text x="200.9" y="681.62" font-size="12" fill="#cc4fa6" textLength="38.7" lengthAdjust="spacingAndGlyphs">J:55.43</text>
<g id="wm"><circle cx="14.7" cy="720.4" r="4.1" fill="none" stroke="#fff" stroke-width="2.9"/><path d="M17.4 723.3l3 3" stroke="#fff" stroke-width="2.6"/><path d="M27.6 719.6a4.6 4.6 0 1 0 0 8.6" fill="none" stroke="#fff" stroke-width="2.3"/><circle cx="23.6" cy="715.6" r="1.7" fill="#d9502f"/></g>
<text x="34.4" y="728.72" font-size="17" fill="#fff" font-weight="700" textLength="55" lengthAdjust="spacingAndGlyphs">AiCoin</text>
<g id="toolbar"><g transform="translate(19.2 15.9)" stroke="#e2e2e2" stroke-width="1.25" fill="none" stroke-linecap="round" stroke-linejoin="round"><path d="M-4.6 4.6L4.6 -4.6M-5.5 3.7l1.8 1.8M3.7 -5.5l1.8 1.8"/></g><g transform="translate(51.2 16)" stroke="#c4c4c4" stroke-width="1.3" fill="none" stroke-linecap="round" stroke-linejoin="round"><path d="M-6.6 -4.5h13.2M-6.6 0h13.2M-6.6 4.4h13.2" stroke-linecap="butt"/><path d="M-0.5 -5.4v1.8M1.5 -.9v1.8M-0.5 3.5v1.8" stroke-width="1.6" stroke="#e6e6e6"/></g><g transform="translate(83.5 16)" stroke="#c4c4c4" stroke-width="1.4" fill="none" stroke-linecap="round" stroke-linejoin="round"><path d="M-6.6 -4.5h13.2M-6.6 0h13.2M-6.6 4.4h13.2" stroke-linecap="butt"/></g><g transform="translate(115.2 16.1)" stroke="#c4c4c4" stroke-width="1.3" fill="none" stroke-linecap="round" stroke-linejoin="round"><path d="M-6.6 0h13.2" stroke-linecap="butt"/><path d="M-1.3 -1.5v3" stroke-width="1.5" stroke="#e6e6e6"/></g><g transform="translate(147.25 15.95)" stroke="#bdbdbd" stroke-width="1.6" fill="none" stroke-linecap="round" stroke-linejoin="round"><rect x="-6.1" y="-5" width="12.2" height="10" rx="1.6"/></g><g fill="#8a8a8a"><circle cx="173.6" cy="16.1" r=".8"/><circle cx="177.8" cy="16.1" r=".8"/><circle cx="181.6" cy="16.1" r=".8"/></g><circle cx="186" cy="15.5" r="3.4" fill="#e9614c"/><path d="M202.5 9v14M380.5 9v14" stroke="#343434" fill="none"/><text x="221.2" y="20.95" font-size="13.2" fill="#c9b17f">主</text><text x="253.8" y="20.95" font-size="13.2" fill="#d1b988">大</text><text x="285.5" y="20.95" font-size="13.2" fill="#d9b94e">筹</text><g transform="translate(324 16)" stroke="#e2e2e2" stroke-width="1.25" fill="none" stroke-linecap="round" stroke-linejoin="round"><path d="M-5.8 2.3v-6.8a1.2 1.2 0 0 1 1.2-1.2h7.6M5.9 -3v7.2a1.2 1.2 0 0 1-1.2 1.2h-7.6"/><path d="M2.6 -7.3l2 1.6-2 1.6zM-2.9 3.8l-2 1.6 2 1.6z" fill="#e2e2e2" stroke-width=".6"/><path d="M-2.6 1.8L1.6 -2.2" stroke-width="2.3" stroke-linecap="butt"/><path d="M-3.2 2.5h6.2" stroke-width="1.1"/></g><g transform="translate(356.3 16)" stroke="#e2e2e2" stroke-width="1.25" fill="none" stroke-linecap="round" stroke-linejoin="round"><path d="M-5.8 3.7L5.6 -6"/><path d="M-6.1 3.3l2.6 2.4" stroke-width="1.1"/><circle cx="-1.4" cy="0" r=".9" fill="#e2e2e2" stroke="none"/><path d="M1.1 2.7h4.3M4.1 1.5l1.5 1.2M5.4 4.5h-4.3M2.4 5.7l-1.5-1.2" stroke-width=".95"/></g><g transform="translate(406.2 16)" stroke="#e2e2e2" stroke-width="1.3" fill="none" stroke-linecap="round" stroke-linejoin="round"><path d="M-2.2 -3.3h7.5v9l-3.75-2.2-3.75 2.2z"/><path d="M-5.9 0v-5.1a.6.6 0 0 1 .6-.6h5.8"/></g><g transform="translate(437.9 16)" stroke="#e2e2e2" stroke-width="1.25" fill="none" stroke-linecap="round" stroke-linejoin="round"><g transform="rotate(-44.5)"><rect x="-6.6" y="-3" width="13.2" height="6" rx=".4"/><path d="M-3.3 -3v2.1M-1.1 -3v2.1M1.1 -3v2.1M3.3 -3v2.1" stroke-width=".9"/></g></g><g transform="translate(469 15)" stroke="#e2e2e2" stroke-width="1.3" fill="none" stroke-linecap="round" stroke-linejoin="round"><circle cx="0" cy="0" r="4.9"/><path d="M3.7 3.9l3 3.1"/><path d="M0 -1.7l1.7 1.7-1.7 1.7-1.7-1.7z" fill="#bdbdbd" stroke="none"/></g><circle cx="476.2" cy="9.8" r="3.4" fill="#e2435f" stroke="#f3c4cc" stroke-width=".5"/><g transform="translate(500.7 16.2)" stroke="#e2e2e2" stroke-width="1.25" fill="none" stroke-linecap="round" stroke-linejoin="round"><g transform="rotate(-46)"><rect x="-6.5" y="-2.2" width="13" height="4.4" rx="2.2"/><path d="M2.2 -2.2v4.4" stroke-width="1"/></g><path d="M3 3.6q1-1.5 2 0t2 0" stroke-width="1.05"/></g><g transform="translate(534 16)" stroke="#e2e2e2" stroke-width="1.2" fill="none" stroke-linecap="round" stroke-linejoin="round"><rect x="-6.3" y="-3.2" width="3.2" height="6.6" fill="#b9b9b9"/><rect x="-1.5" y="-2.9" width="3" height="5.5"/><rect x="3" y="-3.2" width="3.4" height="6.6"/><path d="M-4.7 -5v1.8M-4.7 3.4v1.7M4.7 -5v1.8M4.7 3.4v1.7M0 -4.2v1.3M0 2.6v1.6" stroke-width="1.2"/></g><g transform="translate(566.3 16)" stroke="#e2e2e2" stroke-width="1.3" fill="none" stroke-linecap="round" stroke-linejoin="round"><rect x="-6" y="-2.5" width="11.6" height="8.5" rx=".7"/><path d="M-3.2 -2.5v-2.5a2.85 2.85 0 0 1 5.6 -.8"/><path d="M-.6 1.1l1.3.6-1.3.6z" fill="#e2e2e2" stroke-width=".5"/></g><g transform="translate(597.5 16)" stroke="#b4b4b4" stroke-width="1.3" fill="none" stroke-linecap="round" stroke-linejoin="round"><path d="M5.5 -1.6v-2.5a1.8 1.8 0 0 0 -1.8 -1.8h-8.2a1.8 1.8 0 0 0 -1.8 1.8v8a1.8 1.8 0 0 0 1.8 1.8h3.6" stroke-width="1.6"/><path d="M-3.5 -2.3h5.7M-3.5 .5h3.7" stroke-width="1.3" stroke-linecap="butt"/><path d="M1.2 4.2L4.9 1" stroke="#e8e8e8" stroke-width="3.1"/><path d="M1.2 4.2L4.9 1" stroke="#121212" stroke-width="1"/><path d="M3 5.8h2.8" stroke-width="1.1"/></g><g transform="translate(630 16)" stroke="#e2e2e2" stroke-width="1.2" fill="none" stroke-linecap="round" stroke-linejoin="round"><g transform="rotate(45)"><path d="M-5 5.4v-5.6a5 5 0 0 1 10 0v5.6h-3.2v-5.6a1.8 1.8 0 0 0 -3.6 0v5.6z"/><path d="M-5 2.8h3.2M1.8 2.8h3.2" stroke-width="1"/></g></g><rect x="650" y="4.4" width="24" height="23.4" rx="4" fill="#2c2c2c"/><g transform="translate(662 16)" stroke="#e2e2e2" stroke-width="1.4" fill="none" stroke-linecap="round" stroke-linejoin="round"><path d="M-6 -4.8h12l-4.6 5.6v4.8h-2.8v-4.8z"/></g><g transform="translate(694.3 16)" stroke="#e2e2e2" stroke-width="1.3" fill="none" stroke-linecap="round" stroke-linejoin="round"><path d="M-5 -3h10M-2 -3v-2h4v2"/><rect x="-4.2" y="-3" width="8.4" height="8.6" rx=".8"/><path d="M-1.4 -.4v3.6M1.4 -.4v3.6" stroke-width="1.2"/></g><g transform="translate(726.6 16)" stroke="#e2e2e2" stroke-width="1.3" fill="none" stroke-linecap="round" stroke-linejoin="round"><path d="M-2.4 -5.4l-3.6 3.4 3.6 3.4M-6 -2h6.4a5.4 5.4 0 0 1 5.4 5.4v1.4"/></g><g transform="translate(758.5 16)" stroke="#454545" stroke-width="1.3" fill="none" stroke-linecap="round" stroke-linejoin="round"><path d="M2.4 -5.4l3.6 3.4-3.6 3.4M6 -2h-6.4a5.4 5.4 0 0 0 -5.4 5.4v1.4"/></g></g>
</svg>
</body></html>
